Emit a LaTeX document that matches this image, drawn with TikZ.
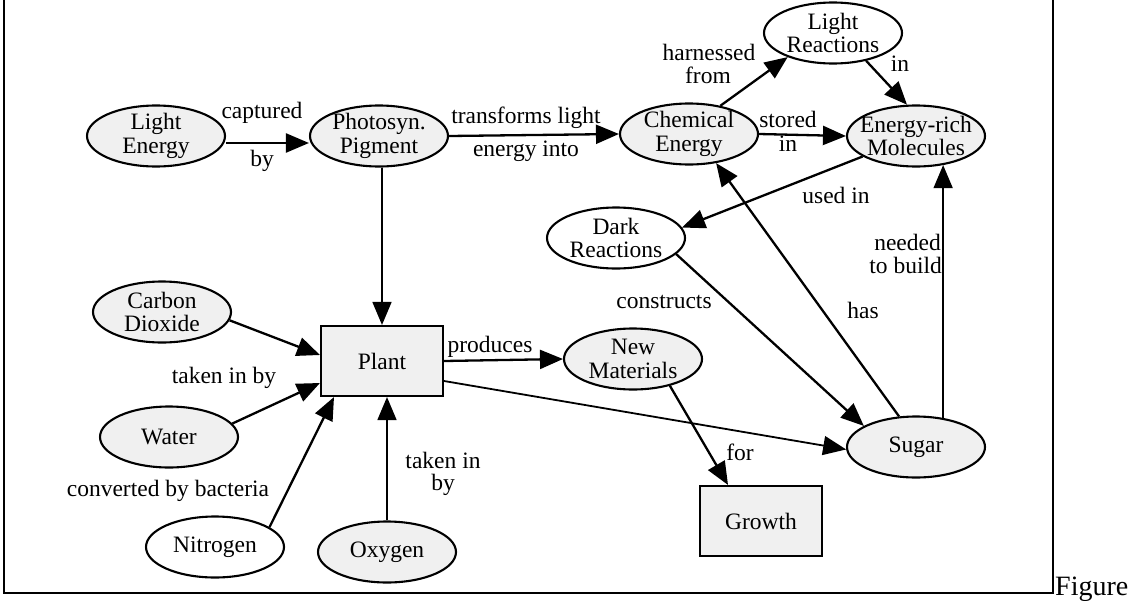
\documentclass[tikz,border=0pt]{standalone}
\usepackage{fontspec}
\setmainfont{Liberation Serif}
\usetikzlibrary{shapes.geometric,arrows.meta}
\definecolor{nodefill}{RGB}{240,240,240}
\begin{document}
\begin{tikzpicture}[x=1pt,y=-1pt,
  every node/.style={font=\fontsize{23.5}{23.5}\selectfont},
  concept/.style={ellipse, draw, line width=2.1pt, fill=white,
    minimum width=138pt, minimum height=61pt,
    inner xsep=-12pt, inner ysep=-2pt, align=center},
  shaded/.style={fill=nodefill},
  boxnode/.style={rectangle, draw, line width=2.1pt, fill=nodefill,
    minimum width=122pt, minimum height=70pt},
  link/.style={line width=2.3pt, -{Triangle[length=23pt,width=19pt]}},
  thinlink/.style={link, line width=1.6pt},
  lbl/.style={anchor=base, inner sep=0pt},
]
\useasboundingbox (0,0) rectangle (1135,600);

% outer frame (open at the top) and caption
\draw[line width=2pt] (4,-5) -- (4,593) -- (1053,593) -- (1053,-5);
\node[anchor=base west, inner sep=0pt, font=\fontsize{28}{30}\selectfont] (figlabel) at (1055,595) {Figure};

% concepts
\node[concept,shaded] (le) at (156,136) {Light\\Energy};
\node[concept,shaded] (ps) at (379,136) {Photosyn.\\Pigment};
\node[concept,shaded] (ce) at (689,134) {Chemical\\Energy};
\node[concept] (lr) at (833,33) {Light\\Reactions};
\node[concept,shaded] (er) at (916,136) {Energy-rich\\Molecules};
\node[concept] (dr) at (616,238) {Dark\\Reactions};
\node[concept,shaded] (co) at (162,312) {Carbon\\Dioxide};
\node[boxnode] (plant) at (382,361) {Plant};
\node[concept,shaded] (wa) at (169,437) {Water};
\node[concept] (ni) at (215,547) {Nitrogen};
\node[concept,shaded] (ox) at (387,552) {Oxygen};
\node[concept,shaded] (nm) at (633,359) {New\\Materials};
\node[boxnode] (gr) at (761,521) {Growth};
\node[concept,shaded] (su) at (916,447) {Sugar};

% links
\draw[link] ([yshift=-7pt]le.east) -- ([yshift=-7pt]ps.west);
\draw[link] (ps.east) -- (ce.west);
\draw[thinlink] (plant.north |- ps.south) -- (plant.north);
\draw[link] (ce.42) -- (lr.208);
\draw[link] (lr.-40) -- (er.106);
\draw[link] (ce.east) -- (er.west);
\draw[link] (er.201) -- (dr.9);
\draw[link] (dr.-15) -- (su.158);
\draw[link] (su.119) -- (ce.-47);
\draw[thinlink] (su.47) -- (er.-47);
\draw[link] (co.-7) -- ([yshift=6pt]plant.west);
\draw[link] (wa.12) -- ([yshift=-22pt]plant.west);
\draw[link] (ni.20) -- ([xshift=-48pt]plant.south);
\draw[thinlink] (ox.north) -- (ox.north |- plant.south);
\draw[link] (plant.east) -- (nm.west);
\draw[link, line width=1.8pt] ([yshift=-20pt]plant.east) -- (su.182);
\draw[link] (nm.-36) -- ([xshift=-33pt]gr.north);

% link labels
\node[lbl] (l1) at (262,118) {captured};
\node[lbl] (l2) at (262,166) {by};
\node[lbl] (l3) at (526,123) {transforms light};
\node[lbl] (l4) at (526,156) {energy into};
\node[lbl] (l5) at (709,60) {harnessed};
\node[lbl] (l6) at (708,83) {from};
\node[lbl] (l7) at (900,71) {in};
\node[lbl] (l8) at (788,127) {stored};
\node[lbl] (l9) at (788,151) {in};
\node[lbl] (l10) at (836,203) {used in};
\node[lbl, anchor=base east] (l11) at (941,250) {needed};
\node[lbl, anchor=base east] (l12) at (942,273) {to build};
\node[lbl] (l13) at (863,318) {has};
\node[lbl] (l14) at (664,308) {constructs};
\node[lbl] (l15) at (224,383) {taken in by};
\node[lbl] (l16) at (168,496) {converted by bacteria};
\node[lbl] (l17) at (443,468) {taken in};
\node[lbl] (l18) at (443,490) {by};
\node[lbl] (l19) at (490,352) {produces};
\node[lbl] (l20) at (740,460) {for};
\end{tikzpicture}
\end{document}
